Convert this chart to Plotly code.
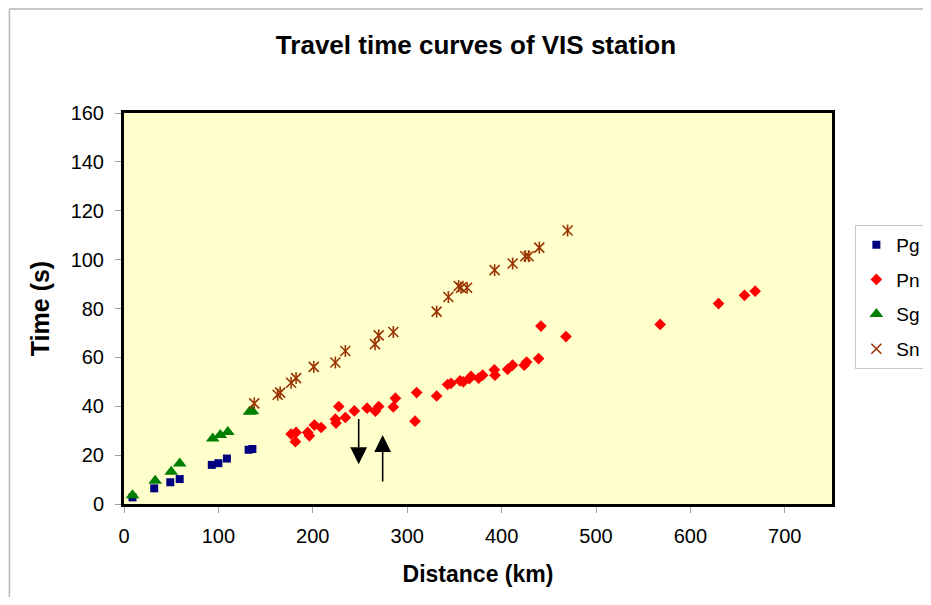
import plotly.graph_objects as go

# ---- data ----
pg_dist = [9, 32, 49, 59, 93, 100, 109, 132, 136]
pg_time = [2.7, 6.4, 8.9, 10.2, 16.0, 16.7, 18.6, 22.2, 22.5]

pn_dist = [177, 182.3, 181.6, 194.6, 196.4, 201.7, 208.8, 223.9, 224.6, 227.5,
           234.5, 244, 257.5, 266.3, 269.8, 285.3, 287.5, 308.3, 310, 331.2,
           342.8, 346.4, 356, 359.5, 365.8, 367.6, 375.7, 379.9, 392.3, 393,
           406.4, 411.6, 424, 426.5, 439.2, 441.7, 468.2, 568, 629.8, 657.3, 668.6]
pn_time = [28.6, 29.3, 25.5, 29.3, 27.9, 32.3, 31.3, 34.7, 33.1, 39.9,
           35.4, 38.1, 39.2, 38.0, 39.9, 39.7, 43.3, 33.9, 45.6, 44.2,
           48.9, 49.4, 50.4, 50.0, 51.3, 52.2, 51.5, 52.7, 54.9, 52.7,
           55.1, 56.8, 56.8, 58.1, 59.5, 72.8, 68.5, 73.5, 82.0, 85.4, 87.1]

sg_dist = [9, 33, 50, 59, 94, 102, 110, 133, 136]
sg_time = [3.6, 9.5, 13.2, 16.6, 26.8, 28.2, 29.5, 37.8, 38.0]

sn_dist = [138, 162.8, 165.4, 177, 182.3, 201, 223.9, 234.5, 265.9, 269.8, 285.3,
           331.2, 343.6, 354.5, 357, 363.4, 392.6, 411.7, 425.1, 428.6, 439.9, 469.9]
sn_time = [41.2, 44.7, 45.6, 49.6, 51.5, 56.1, 57.9, 62.6, 65.4, 69.0, 70.4,
           78.7, 84.7, 89.2, 88.5, 88.5, 95.7, 98.4, 101.4, 101.4, 104.9, 111.9]

# arrows: (distance, from time, to time)
arrow_down = (248.6, 35.4, 16.3)
arrow_up = (274, 8.6, 28.2)

x_ticks = [0, 100, 200, 300, 400, 500, 600, 700]
y_ticks = [0, 20, 40, 60, 80, 100, 120, 140, 160]

FONT = "Liberation Sans, Arial, Helvetica, sans-serif"
SN_COLOR = "#993300"

# figure sits inside the page's default 8px body margin
W, H = 915, 589

fig = go.Figure()
fig.add_trace(go.Scatter(x=pg_dist, y=pg_time, mode="markers", name="Pg",
                         legendgroup="pg",
                         marker=dict(symbol="square", size=8, color="#000080")))
fig.add_trace(go.Scatter(x=pn_dist, y=pn_time, mode="markers", name="Pn",
                         legendgroup="pn",
                         marker=dict(symbol="diamond", size=9, color="#FF0000")))
fig.add_trace(go.Scatter(x=sg_dist, y=sg_time, mode="markers", name="Sg",
                         legendgroup="sg",
                         marker=dict(symbol="triangle-up", size=12, color="#008000")))
fig.add_trace(go.Scatter(x=sn_dist, y=sn_time, mode="markers", name="Sn",
                         legendgroup="sn",
                         marker=dict(symbol="x-thin-open", size=10, color=SN_COLOR,
                                     line=dict(color=SN_COLOR, width=1.6))))
fig.add_trace(go.Scatter(x=sn_dist, y=sn_time, mode="markers", name="Sn",
                         legendgroup="sn", showlegend=False,
                         marker=dict(symbol="line-ns-open", size=8.5, color=SN_COLOR,
                                     line=dict(color=SN_COLOR, width=1.6))))

for (d, t0, t1) in (arrow_down, arrow_up):
    fig.add_annotation(x=d, y=t1, ax=d, ay=t0, xref="x", yref="y",
                       axref="x", ayref="y", text="", showarrow=True,
                       arrowhead=2, arrowsize=2.1, arrowwidth=1.6,
                       arrowcolor="black")

# outer chart-area border (only top and left edges are visible)
BORDER = dict(color="#b4b4b4", width=1.5)
fig.add_shape(type="line", xref="paper", yref="paper",
              x0=-0.1618, x1=1.3, y0=1.266, y1=1.266, line=BORDER)
fig.add_shape(type="line", xref="paper", yref="paper",
              x0=-0.1618, x1=-0.1618, y0=-0.5, y1=1.266, line=BORDER)

fig.update_layout(
    width=W, height=H,
    margin=dict(l=115.5, r=90.5, t=105, b=92.5, autoexpand=False),
    paper_bgcolor="white",
    plot_bgcolor="#FFFFCC",
    font=dict(family=FONT, color="black"),
    title=dict(text="<b>Travel time curves of VIS station</b>",
               font=dict(size=26, family=FONT, color="black"),
               x=468 / W, xanchor="center", xref="container",
               y=1 - 37 / H, yanchor="middle", yref="container"),
    showlegend=True,
    legend=dict(x=1.033, y=0.714, xanchor="left", yanchor="top",
                bgcolor="white", bordercolor="#c8c8c8", borderwidth=1,
                font=dict(size=19, family=FONT, color="black"),
                tracegroupgap=7, itemwidth=30),
    xaxis=dict(range=[0, 750], tickvals=x_ticks, ticktext=[str(v) for v in x_ticks],
               showgrid=False, zeroline=False,
               showline=True, mirror=True, linecolor="black", linewidth=3,
               ticks="outside", ticklen=6, tickwidth=1, tickcolor="#a0a0a0",
               tickfont=dict(size=20, family=FONT, color="black"),
               ticklabelstandoff=6,
               title=dict(text="<b>Distance (km)</b>", standoff=20,
                          font=dict(size=23, family=FONT, color="black"))),
    yaxis=dict(range=[0, 160], tickvals=y_ticks, ticktext=[str(v) for v in y_ticks],
               showgrid=False, zeroline=False,
               showline=True, mirror=True, linecolor="black", linewidth=3,
               ticks="outside", ticklen=6, tickwidth=1, tickcolor="#a0a0a0",
               tickfont=dict(size=20, family=FONT, color="black"),
               ticklabelstandoff=7,
               title=dict(text="<b>Time (s)</b>", standoff=14,
                          font=dict(size=25, family=FONT, color="black"))),
)

fig.write_html("out.html")
